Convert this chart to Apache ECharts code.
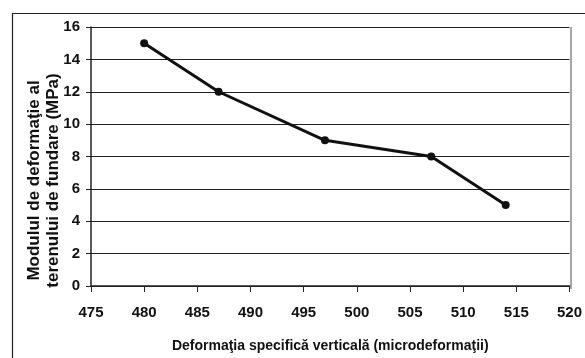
<!DOCTYPE html>
<html><head><meta charset="utf-8">
<script src="https://cdn.jsdelivr.net/npm/echarts@6/dist/echarts.min.js"></script>
<style>html,body{margin:0;padding:0;background:#fff}#c{width:585px;height:358px}</style>
</head><body><div id="c"></div>
<script>
const xValues = [480, 487, 497, 507, 514];
const yValues = [15, 12, 9, 8, 5];
const xAxisTitle = 'Deformaţia specifică verticală (microdeformaţii)';
const yAxisTitle = 'Modulul de deformaţie al\nterenului de fundare (MPa)';

const chart = echarts.init(document.getElementById('c'), null, {renderer: 'canvas'});
const font = '"Liberation Sans", Arial, sans-serif';
chart.setOption({
  animation: false,
  graphic: [{
    type: 'rect', left: 10, top: 11, shape: {width: 700, height: 500},
    style: {fill: 'none', stroke: '#222', lineWidth: 1.2}, z: -1
  }, {
    type: 'line', shape: {x1: 571, y1: 27, x2: 571, y2: 289},
    style: {stroke: '#888', lineWidth: 1.5}
  }],
  grid: {left: 91, top: 27, right: 14, bottom: 69, containLabel: false},
  xAxis: {
    type: 'value', min: 475, max: 520, interval: 5,
    name: xAxisTitle, nameLocation: 'middle', nameGap: 53, nameMoveOverlap: false,
    nameTextStyle: {fontFamily: font, fontWeight: 'bold', fontSize: 14, color: '#111'},
    axisLine: {lineStyle: {color: '#222', width: 1.5}},
    axisTick: {show: true, length: 6, lineStyle: {color: '#222'}},
    axisLabel: {fontFamily: font, fontWeight: 'bold', fontSize: 15, color: '#111', margin: 19},
    splitLine: {show: false}
  },
  yAxis: {
    type: 'value', min: 0, max: 16, interval: 2,
    name: yAxisTitle, nameLocation: 'middle', nameGap: 28, nameMoveOverlap: false,
    nameTextStyle: {fontFamily: font, fontWeight: 'bold', fontSize: 17, color: '#111', lineHeight: 19, padding: [0, 48, 0, 0]},
    axisLine: {show: true, lineStyle: {color: '#222', width: 1.5}},
    axisTick: {show: true, length: 5, lineStyle: {color: '#222'}},
    axisLabel: {fontFamily: font, fontWeight: 'bold', fontSize: 15, color: '#111', margin: 11},
    splitLine: {show: true, lineStyle: {color: '#222', width: 1.2}}
  },
  series: [{
    type: 'line',
    data: xValues.map((x, i) => [x, yValues[i]]),
    symbol: 'circle', symbolSize: 8,
    lineStyle: {color: '#111', width: 3},
    itemStyle: {color: '#111'}
  }]
});
</script></body></html>
